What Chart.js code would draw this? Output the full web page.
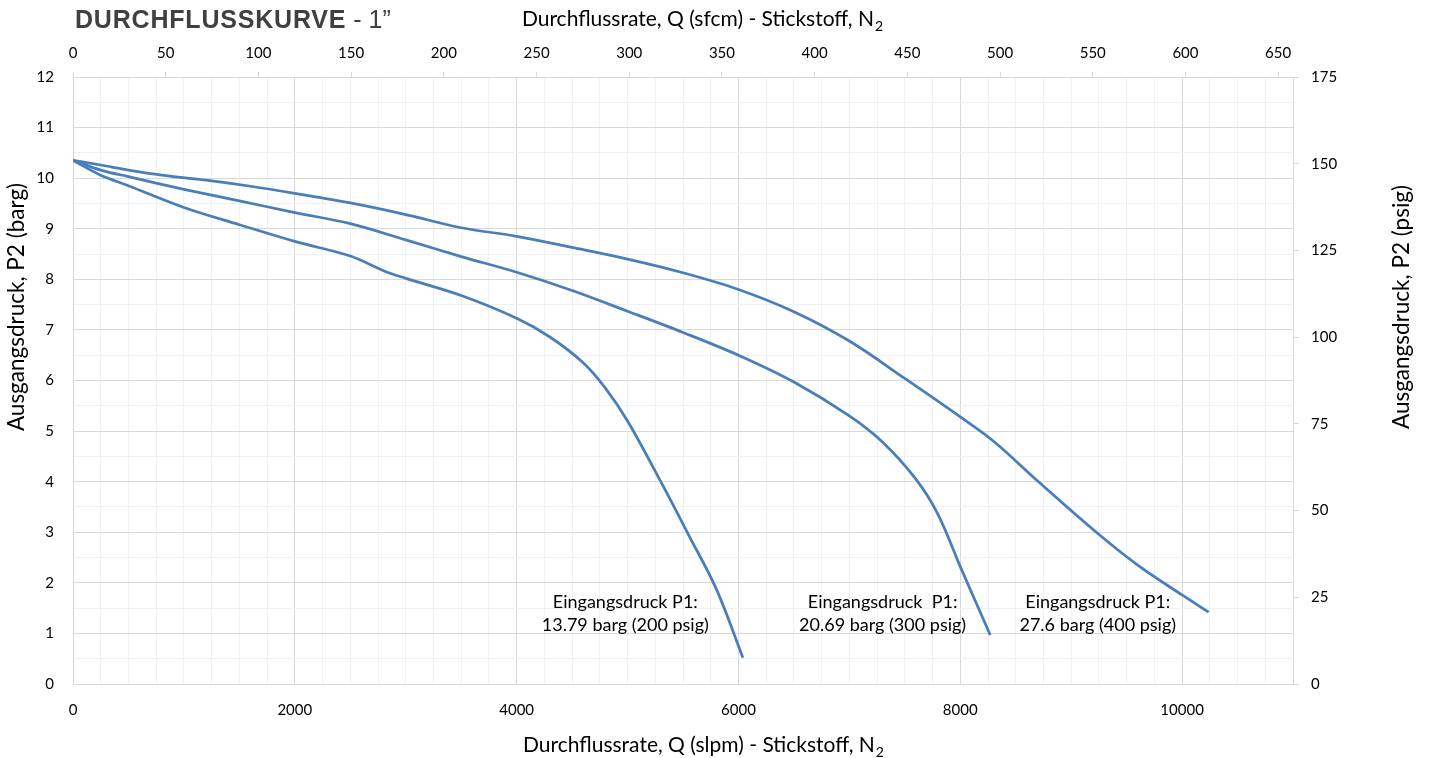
<!DOCTYPE html>
<html>
<head>
<meta charset="utf-8">
<script src="https://cdn.jsdelivr.net/npm/chart.js@4"></script>
<style>
  body { margin: 0; background: #fff; }
  #wrap { width: 1429px; height: 758px; }
</style>
</head>
<body>
<div id="wrap"><canvas id="flow-chart" width="1429" height="758"></canvas></div>
<script>
// flow rate (slpm) vs outlet pressure (barg), one curve per inlet pressure
const flow200 = [0, 250, 500, 1000, 1500, 2000, 2500, 2800, 3000, 3500, 4000, 4300, 4600, 4800, 5000, 5300, 5550, 5800, 6040];
const p2_200 = [10.35, 10.06, 9.85, 9.42, 9.08, 8.75, 8.46, 8.17, 8.02, 7.68, 7.23, 6.86, 6.35, 5.85, 5.2, 4.0, 2.95, 1.88, 0.52];

const flow300 = [0, 250, 500, 1000, 1500, 2000, 2500, 3000, 3500, 4000, 4500, 5000, 5500, 6000, 6500, 7000, 7300, 7600, 7800, 8000, 8270];
const p2_300 = [10.35, 10.16, 10.03, 9.78, 9.55, 9.32, 9.1, 8.78, 8.45, 8.14, 7.78, 7.37, 6.95, 6.5, 5.97, 5.3, 4.78, 4.05, 3.35, 2.32, 0.97];

const flow400 = [0, 250, 500, 800, 1200, 1600, 2000, 2500, 3000, 3500, 4000, 4500, 5000, 5500, 6000, 6500, 7000, 7500, 8000, 8300, 8700, 9200, 9600, 10000, 10240];
const p2_400 = [10.35, 10.26, 10.16, 10.06, 9.96, 9.84, 9.7, 9.51, 9.28, 9.02, 8.85, 8.63, 8.4, 8.13, 7.8, 7.36, 6.78, 6.04, 5.28, 4.8, 4.01, 3.05, 2.35, 1.76, 1.42];

const curveLabels = [
    ["Eingangsdruck P1:", "13.79 barg (200 psig)"],
    ["Eingangsdruck  P1:", "20.69 barg (300 psig)"],
    ["Eingangsdruck P1:", "27.6 barg (400 psig)"]
];

const chartTitle = "DURCHFLUSSKURVE";
const chartSubTitle = " - 1\u201D";
const bottomTitle = "Durchflussrate, Q (slpm) - Stickstoff, N";
const topTitle = "Durchflussrate, Q (sfcm) - Stickstoff, N";
const leftTitle = "Ausgangsdruck, P2 (barg)";
const rightTitle = "Ausgangsdruck, P2 (psig)";

function toPoints(xs, ys) {
    return xs.map((x, i) => ({ x: x, y: ys[i] }));
}

Chart.defaults.font.family = "Lato, 'Noto Sans', sans-serif";
Chart.defaults.font.size = 15;
Chart.defaults.color = "#000";

const LINE = "#4A7EBB";
const MAJOR = "#D9D9D9";
const MINOR = "#EDF2F9";

// text anchors of the curve labels, in data units
const labelAnchors = [[4980, 1.62], [7300, 1.62], [9240, 1.62]];

// draws the title, axis titles (with subscript) and the curve labels
const textPlugin = {
    id: 'textPlugin',
    afterDraw(chart) {
        const ctx = chart.ctx;
        ctx.save();

        // chart title
        ctx.textBaseline = 'alphabetic';
        ctx.textAlign = 'left';
        ctx.fillStyle = '#404040';
        ctx.font = "bold 25px 'Liberation Sans', Arial, sans-serif";
        ctx.letterSpacing = '0.8px';
        ctx.fillText(chartTitle, 75, 28);
        const w = ctx.measureText(chartTitle).width;
        ctx.font = "25px 'Liberation Sans', Arial, sans-serif";
        ctx.letterSpacing = '0px';
        ctx.fillText(chartSubTitle, 75 + w, 28);

        // horizontal axis titles with N2 subscript
        ctx.fillStyle = '#000';
        function subTitle(text, cx, cy) {
            ctx.font = "21px Lato, sans-serif";
            const tw = ctx.measureText(text).width;
            ctx.font = "14px Lato, sans-serif";
            const sw = ctx.measureText("2").width;
            const x0 = cx - (tw + sw) / 2;
            ctx.textBaseline = 'middle';
            ctx.font = "21px Lato, sans-serif";
            ctx.fillText(text, x0, cy);
            ctx.font = "14px Lato, sans-serif";
            ctx.fillText("2", x0 + tw + 1, cy + 7);
        }
        subTitle(bottomTitle, 703, 745);
        subTitle(topTitle, 702, 19);

        // vertical axis titles
        ctx.font = "22.5px Lato, sans-serif";
        ctx.textAlign = 'center';
        ctx.textBaseline = 'middle';
        [[leftTitle, 17], [rightTitle, 1402]].forEach(function (t) {
            ctx.save();
            ctx.translate(t[1], 307);
            ctx.rotate(-Math.PI / 2);
            ctx.fillText(t[0], 0, 0);
            ctx.restore();
        });

        // curve labels
        const xs = chart.scales.x;
        const ys = chart.scales.y;
        ctx.font = "18px Lato, sans-serif";
        curveLabels.forEach(function (lines, i) {
            const px = xs.getPixelForValue(labelAnchors[i][0]);
            const py = ys.getPixelForValue(labelAnchors[i][1]);
            ctx.fillText(lines[0], px, py);
            ctx.fillText(lines[1], px, py + 23);
        });

        ctx.restore();
    }
};

function makeDataset(xs, ys) {
    return {
        data: toPoints(xs, ys),
        showLine: true,
        borderColor: LINE,
        borderWidth: 2.75,
        pointRadius: 0,
        fill: false,
        tension: 0.35
    };
}

new Chart(document.getElementById("flow-chart"), {
    type: 'scatter',
    data: {
        datasets: [
            makeDataset(flow200, p2_200),
            makeDataset(flow300, p2_300),
            makeDataset(flow400, p2_400)
        ]
    },
    options: {
        responsive: false,
        animation: false,
        layout: { padding: 0 },
        plugins: {
            legend: { display: false },
            tooltip: { enabled: false }
        },
        scales: {
            x: {
                type: 'linear',
                position: 'bottom',
                min: 0,
                max: 11000,
                afterFit: (s) => { s.height = 74; },
                ticks: {
                    stepSize: 250,
                    autoSkip: false,
                    maxRotation: 0,
                    padding: 17,
                    callback: (v) => (v % 2000 === 0 ? String(v) : '')
                },
                grid: {
                    drawTicks: false,
                    color: (c) => (c.tick && c.tick.value % 2000 === 0 ? MAJOR : MINOR)
                },
                border: { color: MAJOR }
            },
            xTop: {
                type: 'linear',
                axis: 'x',
                position: 'top',
                min: 0,
                max: 658,
                afterFit: (s) => { s.height = 77; },
                ticks: {
                    stepSize: 50,
                    includeBounds: false,
                    maxRotation: 0,
                    padding: 10
                },
                grid: {
                    drawOnChartArea: false,
                    tickLength: 5,
                    color: MAJOR
                },
                border: { color: MAJOR }
            },
            y: {
                type: 'linear',
                position: 'left',
                min: 0,
                max: 12,
                afterFit: (s) => { s.width = 73; },
                ticks: {
                    stepSize: 0.5,
                    autoSkip: false,
                    padding: 19,
                    callback: (v) => (Number.isInteger(v) ? String(v) : '')
                },
                grid: {
                    drawTicks: false,
                    color: (c) => (c.tick && Number.isInteger(c.tick.value) ? MAJOR : MINOR)
                },
                border: { color: MAJOR }
            },
            yRight: {
                type: 'linear',
                axis: 'y',
                position: 'right',
                min: 0,
                max: 175,
                afterFit: (s) => { s.width = 136; },
                ticks: {
                    stepSize: 25,
                    includeBounds: false,
                    padding: 12
                },
                grid: {
                    drawOnChartArea: false,
                    tickLength: 6,
                    color: MAJOR
                },
                border: { color: MAJOR }
            }
        }
    },
    plugins: [textPlugin]
});
</script>
</body>
</html>
